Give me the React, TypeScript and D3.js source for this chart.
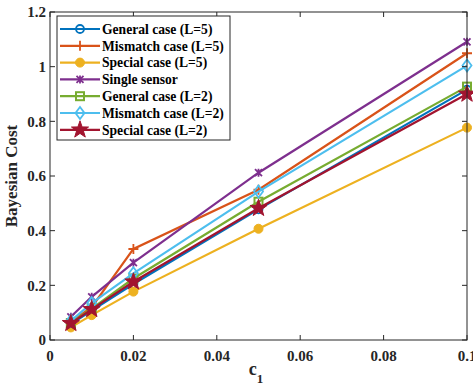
import * as d3 from 'd3';

const c1 = [0.005, 0.01, 0.02, 0.05, 0.1];

const generalL5 = [0.058, 0.108, 0.205, 0.478, 0.916];
const mismatchL5 = [0.066, 0.12, 0.333, 0.55, 1.049];
const specialL5 = [0.046, 0.091, 0.177, 0.407, 0.777];
const singleSensor = [0.085, 0.158, 0.283, 0.612, 1.091];
const generalL2 = [0.062, 0.115, 0.225, 0.506, 0.927];
const mismatchL2 = [0.07, 0.135, 0.244, 0.543, 1.004];
const specialL2 = [0.061, 0.112, 0.213, 0.482, 0.9];

const xTicks = [0, 0.02, 0.04, 0.06, 0.08, 0.1];
const yTicks = [0, 0.2, 0.4, 0.6, 0.8, 1, 1.2];

type Marker = 'circle' | 'plus' | 'dot' | 'cross' | 'square' | 'diamond' | 'star';

const series: { name: string; values: number[]; color: string; marker: Marker }[] = [
    { name: 'General case (L=5)', values: generalL5, color: '#0072BD', marker: 'circle' },
    { name: 'Mismatch case (L=5)', values: mismatchL5, color: '#D95319', marker: 'plus' },
    { name: 'Special case (L=5)', values: specialL5, color: '#EDB120', marker: 'dot' },
    { name: 'Single sensor', values: singleSensor, color: '#7E2F8E', marker: 'cross' },
    { name: 'General case (L=2)', values: generalL2, color: '#77AC30', marker: 'square' },
    { name: 'Mismatch case (L=2)', values: mismatchL2, color: '#4DBEEE', marker: 'diamond' },
    { name: 'Special case (L=2)', values: specialL2, color: '#A2142F', marker: 'star' },
];

const W = 473;
const H = 386;
const left = 50;
const right = 467;
const top = 12;
const bottom = 340;
const font = '"Liberation Serif", "Times New Roman", serif';
const axisColor = '#262626';

const x = d3.scaleLinear().domain([0, 0.1]).range([left, right]);
const y = d3.scaleLinear().domain([0, 1.2]).range([bottom, top]);

function starPath(r: number) {
    const pts: string[] = [];
    for (let i = 0; i < 10; i++) {
        const a = -Math.PI / 2 + (i * Math.PI) / 5;
        const rr = i % 2 === 0 ? r : r * 0.4;
        pts.push(`${rr * Math.cos(a)},${rr * Math.sin(a)}`);
    }
    return `M${pts.join('L')}Z`;
}

function MarkerShape({ type, color, cx, cy }: { type: Marker; color: string; cx: number; cy: number }) {
    const t = `translate(${cx},${cy})`;
    switch (type) {
        case 'circle':
            return <circle transform={t} r={4} fill="none" stroke={color} strokeWidth={1.8} />;
        case 'plus':
            return <path transform={t} d="M-5,0H5M0,-5V5" stroke={color} strokeWidth={1.8} />;
        case 'dot':
            return <circle transform={t} r={4.5} fill={color} stroke={color} strokeWidth={1} />;
        case 'cross':
            return <path transform={t} d="M-3.5,-3.5L3.5,3.5M-3.5,3.5L3.5,-3.5M0,-4V4" stroke={color} strokeWidth={1.8} />;
        case 'square':
            return <rect transform={t} x={-4} y={-4} width={8} height={8} fill="none" stroke={color} strokeWidth={2} />;
        case 'diamond':
            return <path transform={t} d="M0,-6L4.5,0L0,6L-4.5,0Z" fill="none" stroke={color} strokeWidth={1.8} />;
        case 'star':
            return <path transform={t} d={starPath(9)} fill={color} stroke={color} strokeWidth={1} />;
    }
}

export default function App() {
    const line = d3
        .line<number>()
        .x((_, i) => x(c1[i]))
        .y(d => y(d));

    const legendX = 57;
    const legendY = 16;
    const rowH = 16.8;

    return (
        <svg width={W} height={H} style={{ position: 'absolute', left: 0, top: 0, background: 'white' }}>
            <rect x={0} y={0} width={W} height={H} fill="white" />
            {/* series */}
            {series.map(s => (
                <g key={s.name}>
                    <path d={line(s.values) ?? ''} fill="none" stroke={s.color} strokeWidth={2.2} />
                    {s.values.map((v, i) => (
                        <MarkerShape key={i} type={s.marker} color={s.color} cx={x(c1[i])} cy={y(v)} />
                    ))}
                </g>
            ))}

            {/* axes box */}
            <rect x={left} y={top} width={right - left} height={bottom - top} fill="none" stroke={axisColor} strokeWidth={1} />
            {xTicks.map(t => (
                <g key={`x${t}`}>
                    <line x1={x(t)} x2={x(t)} y1={bottom} y2={bottom - 5} stroke={axisColor} />
                    <line x1={x(t)} x2={x(t)} y1={top} y2={top + 5} stroke={axisColor} />
                    <text x={x(t)} y={361} textAnchor="middle" fontFamily={font} fontWeight="bold" fontSize={15} fill="#262626">
                        {t === 0 ? '0' : String(t)}
                    </text>
                </g>
            ))}
            {yTicks.map(t => (
                <g key={`y${t}`}>
                    <line x1={left} x2={left + 5} y1={y(t)} y2={y(t)} stroke={axisColor} />
                    <line x1={right} x2={right - 5} y1={y(t)} y2={y(t)} stroke={axisColor} />
                    <text x={46} y={y(t)} dy="0.35em" textAnchor="end" fontFamily={font} fontWeight="bold" fontSize={15} fill="#262626">
                        {String(t)}
                    </text>
                </g>
            ))}

            {/* axis labels */}
            <text
                transform={`translate(17,${(top + bottom) / 2}) rotate(-90)`}
                textAnchor="middle"
                fontFamily={font}
                fontWeight="bold"
                fontSize={17}
                fill="#262626"
            >
                Bayesian Cost
            </text>
            <text x={256} y={375} textAnchor="middle" fontFamily={font} fontWeight="bold" fontSize={18} fill="#262626">
                c<tspan fontSize={13} dy={8}>1</tspan>
            </text>

            {/* legend */}
            <rect x={legendX} y={legendY} width={173} height={124} fill="white" stroke={axisColor} strokeWidth={1} />
            {series.map((s, i) => {
                const cy = legendY + 13 + i * rowH;
                return (
                    <g key={`l${s.name}`}>
                        <line x1={60} x2={100} y1={cy} y2={cy} stroke={s.color} strokeWidth={2.2} />
                        <MarkerShape type={s.marker} color={s.color} cx={80} cy={cy} />
                        <text x={102} y={cy} dy="0.35em" fontFamily={font} fontWeight="bold" fontSize={13.6} fill="#000">
                            {s.name}
                        </text>
                    </g>
                );
            })}
        </svg>
    );
}
